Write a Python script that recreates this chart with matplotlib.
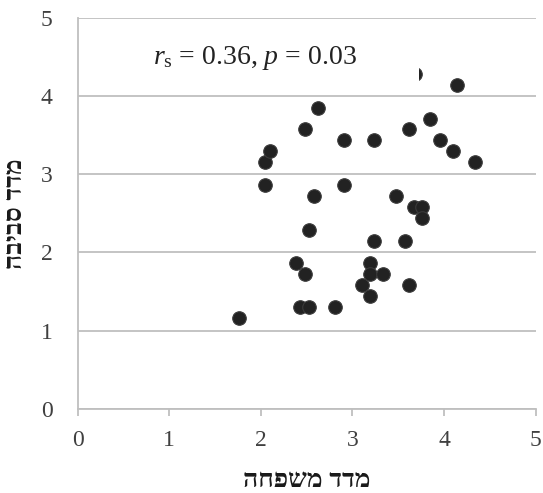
import matplotlib
matplotlib.use("Agg")
import matplotlib.pyplot as plt
from matplotlib.patches import Rectangle

family_index = [1.76, 2.05, 2.05, 2.10, 2.48, 2.62, 2.58, 2.52, 2.38, 2.48,
                2.43, 2.53, 2.81, 2.91, 2.91, 3.23, 3.23, 3.10, 3.19, 3.19,
                3.19, 3.33, 3.57, 3.62, 3.62, 3.47, 3.67, 3.76, 3.76, 3.85,
                3.95, 4.10, 4.14, 4.34, 3.68]
env_index = [1.16, 2.86, 3.15, 3.29, 3.57, 3.85, 2.72, 2.29, 1.87, 1.73,
             1.30, 1.30, 1.30, 3.43, 2.86, 3.43, 2.15, 1.58, 1.87, 1.73,
             1.44, 1.73, 2.15, 1.58, 3.57, 2.72, 2.58, 2.58, 2.44, 3.71,
             3.43, 3.29, 4.14, 3.15, 4.28]
ticks = [0, 1, 2, 3, 4, 5]
x_label = "מדד משפחה"
y_label = "מדד סביבה"
annotation = r"$r_{\mathrm{s}}$ = 0.36, $p$ = 0.03"

def visual(s):
    return s[::-1]

serif = ["Liberation Serif", "DejaVu Serif", "DejaVu Sans"]
plt.rcParams["font.family"] = serif
plt.rcParams["mathtext.fontset"] = "custom"
plt.rcParams["mathtext.rm"] = "Liberation Serif"
plt.rcParams["mathtext.it"] = "Liberation Serif:italic"

fig = plt.figure(figsize=(5.43, 4.93), dpi=100)
ax = fig.add_axes([0.143, 0.1704, 0.8436, 0.7941])

ax.scatter(family_index, env_index, s=95, color="#222222",
           edgecolors="#3a3a3a", linewidths=0.8, zorder=3, clip_on=False)

ax.set_xlim(0, 5)
ax.set_ylim(0, 5)
ax.set_xticks(ticks)
ax.set_yticks(ticks)
ax.set_xticklabels([str(t) for t in ticks])
ax.set_yticklabels([str(t) for t in ticks])
ax.grid(axis="y", color="#bfbfbf", linewidth=1.3, zorder=0)
ax.set_axisbelow(True)

for side in ["top", "right"]:
    ax.spines[side].set_visible(False)
for side in ["left", "bottom"]:
    ax.spines[side].set_color("#bfbfbf")
    ax.spines[side].set_linewidth(1.3)

ax.tick_params(axis="x", direction="out", length=5, width=1.3, color="#bfbfbf",
               labelsize=17, labelcolor="#404040", pad=10)
ax.tick_params(axis="y", length=0, labelsize=17, labelcolor="#404040", pad=18)

ax.set_xlabel(visual(x_label), fontsize=19, fontweight="heavy", color="#1a1a1a",
              labelpad=13)
ax.set_ylabel(visual(y_label), fontsize=19, fontweight="heavy", color="#1a1a1a",
              labelpad=10)

# white text box of the annotation (it hides part of one point, as in the source)
ax.add_patch(Rectangle((0.135, 0.828), 0.6095, 0.138, transform=ax.transAxes,
                       facecolor="white", edgecolor="none", zorder=4))
ax.text(0.82, 4.41, annotation, fontsize=20, color="#222222", zorder=5)

fig.savefig("out.png", dpi=100)
